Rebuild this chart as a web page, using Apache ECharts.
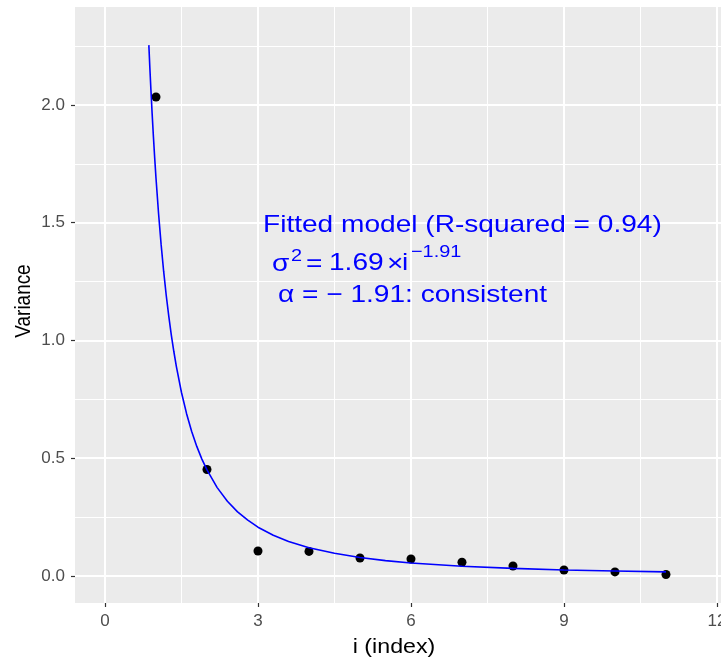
<!DOCTYPE html>
<html><head><meta charset="utf-8">
<script src="https://cdn.jsdelivr.net/npm/echarts@6/dist/echarts.min.js"></script>
<style>html,body{margin:0;padding:0;background:#fff}#c{width:721px;height:658px}</style>
</head><body><div id="c"></div>
<script>
// observed points
const indexValues = [1, 2, 3, 4, 5, 6, 7, 8, 9, 10, 11];
const varianceValues = [2.034, 0.452, 0.106, 0.104, 0.076, 0.072, 0.058, 0.042, 0.025, 0.017, 0.006];
// fitted curve samples (sigma^2 = 1.69 * i^-1.91)
const curveX = [0.86, 0.88, 0.9, 0.925, 0.95, 0.975, 1.0, 1.05, 1.1, 1.15, 1.2, 1.25, 1.3, 1.35, 1.4, 1.5, 1.6, 1.7, 1.8, 1.9, 2.0, 2.2, 2.4, 2.6, 2.8, 3.0, 3.3, 3.6, 4.0, 4.5, 5.0, 5.5, 6.0, 7.0, 8.0, 9.0, 10.0, 11.0];
const curveY = [2.254, 2.157, 2.067, 1.961, 1.864, 1.774, 1.690, 1.540, 1.409, 1.294, 1.193, 1.104, 1.024, 0.953, 0.889, 0.779, 0.689, 0.613, 0.550, 0.496, 0.450, 0.375, 0.317, 0.272, 0.237, 0.207, 0.173, 0.146, 0.120, 0.096, 0.078, 0.065, 0.055, 0.041, 0.032, 0.025, 0.021, 0.017];
// tick labels
const xMajorTicks = [0, 3, 6, 9, 12];
const xMinorTicks = [1.5, 4.5, 7.5, 10.5];
const yMajorTicks = [0, 0.5, 1.0, 1.5, 2.0];
const yMinorTicks = [0.25, 0.75, 1.25, 1.75, 2.25];

const chart = echarts.init(document.getElementById('c'));
const XMIN = -0.588, XMAX = 12.079, YMIN = -0.115, YMAX = 2.416;
const tickFont = {color: '#4d4d4d', fontSize: 17, fontFamily: 'Liberation Sans'};
const SX = 1.17;
const blue = '#0000ff';
function t(text, x, y, size, extra){
  return Object.assign({type:'text', x:x, y:y, z:100, scaleX:SX,
    style:{text:text, fill:blue, font: size + 'px "Liberation Sans"', align:'left', verticalAlign:'middle'}}, extra||{});
}
chart.setOption({
  animation:false,
  grid:{left:75, right:0, top:7, bottom:55, show:true, backgroundColor:'#ebebeb', borderWidth:0, containLabel:false, outerBoundsMode:'none'},
  xAxis:[
    {type:'value', gridIndex:0, min:XMIN, max:XMAX, position:'bottom',
     axisLine:{show:false, onZero:false},
     axisTick:{show:true, length:4, lineStyle:{color:'#333', width:1.2}, customValues: xMajorTicks},
     axisLabel:Object.assign({show:true, margin:10, hideOverlap:false, customValues: xMajorTicks, formatter: v=>String(Math.round(v))}, tickFont),
     splitLine:{show:true, lineStyle:{color:'#ffffff', width:2}}},
    {type:'value', gridIndex:0, min:XMIN, max:XMAX, position:'bottom',
     axisLine:{show:false, onZero:false}, axisLabel:{show:false},
     axisTick:{show:false, customValues: xMinorTicks},
     splitLine:{show:true, lineStyle:{color:'#ffffff', width:1}}}
  ],
  yAxis:[
    {type:'value', gridIndex:0, min:YMIN, max:YMAX, position:'left',
     axisLine:{show:false, onZero:false},
     axisTick:{show:true, length:4, lineStyle:{color:'#333', width:1.2}, customValues: yMajorTicks},
     axisLabel:Object.assign({show:true, margin:10, customValues: yMajorTicks, formatter: v=>v.toFixed(1)}, tickFont),
     splitLine:{show:true, lineStyle:{color:'#ffffff', width:2}}},
    {type:'value', gridIndex:0, min:YMIN, max:YMAX, position:'left',
     axisLine:{show:false, onZero:false}, axisLabel:{show:false},
     axisTick:{show:false, customValues: yMinorTicks},
     splitLine:{show:true, lineStyle:{color:'#ffffff', width:1}}}
  ],
  series:[
    {type:'scatter', xAxisIndex:0, yAxisIndex:0, symbolSize:9, itemStyle:{color:'#000', opacity:1},
     data: indexValues.map((x,i)=>[x, varianceValues[i]]), z:3},
    {type:'line', xAxisIndex:0, yAxisIndex:0, showSymbol:false, smooth:false,
     lineStyle:{color:blue, width:1.6}, data: curveX.map((x,i)=>[x, curveY[i]]), z:4}
  ],
  graphic:[
    {type:'text', x:394, y:647, z:100, scaleX:1.16, style:{text:'i (index)', fill:'#000', font:'20px "Liberation Sans"', align:'center', verticalAlign:'middle'}},
    {type:'text', x:24, y:301, z:100, rotation:Math.PI/2, scaleX:0.86, style:{text:'Variance', fill:'#000', font:'22px "Liberation Sans"', align:'center', verticalAlign:'middle'}},
    t('Fitted model (R-squared = 0.94)', 263, 225, 24),
    t('σ', 272, 264, 24),
    t('2', 291, 256, 17),
    t('=', 306, 264, 24),
    t('1.69', 329, 263, 24),
    t('×', 387, 264, 24),
    t('i', 402, 263, 24),
    t('−1.91', 411, 252, 17),
    t('α = − 1.91: consistent', 278, 295, 24)
  ]
});
</script></body></html>
